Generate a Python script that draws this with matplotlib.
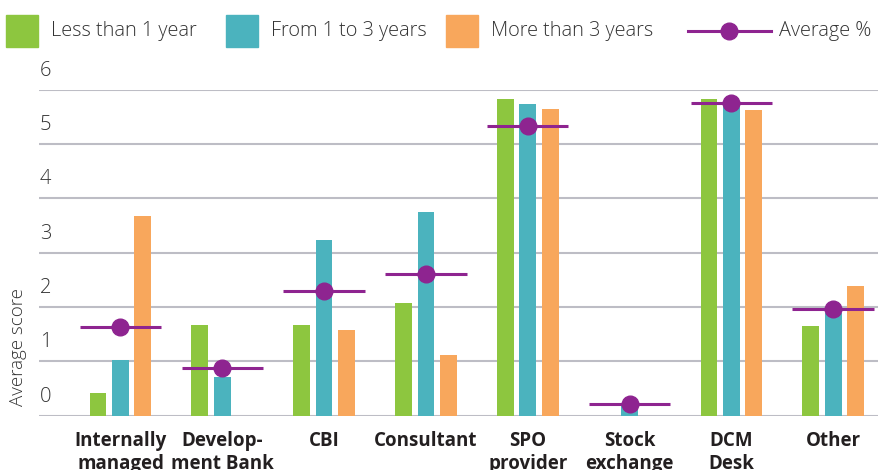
import numpy as np
import matplotlib.pyplot as plt
from matplotlib.patches import Rectangle
from matplotlib.lines import Line2D

categories = ["Internally\nmanaged", "Develop-\nment Bank", "CBI", "Consultant",
              "SPO\nprovider", "Stock\nexchange", "DCM\nDesk", "Other"]
less_1 = [0.42, 1.67, 1.67, 2.07, 5.83, 0.0, 5.83, 1.65]
from_1_3 = [1.03, 0.71, 3.24, 3.75, 5.74, 0.21, 5.75, 1.89]
more_3 = [3.67, 0.0, 1.58, 1.12, 5.65, 0.0, 5.63, 2.39]
average = [1.64, 0.87, 2.30, 2.60, 5.33, 0.21, 5.75, 1.97]
series_names = ["Less than 1 year", "From 1 to 3 years", "More than 3 years"]
yticks = [0, 1, 2, 3, 4, 5, 6]

green, teal, orange, purple = "#8DC63F", "#4BB3BE", "#F8A75C", "#8E2490"
grid_c = "#BDBDC5"
txt_c = "#231F20"
label_c = "#333333"
plt.rcParams["font.family"] = ["Open Sans", "DejaVu Sans"]

W, H = 879, 470
fig = plt.figure(figsize=(W / 100, H / 100), dpi=100)
ax = fig.add_axes([39 / W, (H - 415.7) / H, 1 - 39 / W, (415.7 - 89.7) / H])

x = np.arange(len(categories))
bw, step = 0.165, 0.22
for off, vals, c in zip([-step, 0, step], [less_1, from_1_3, more_3], [green, teal, orange]):
    ax.bar(x + off, vals, width=bw, color=c, zorder=2)

for xi, a in zip(x, average):
    ax.plot([xi - 0.4, xi + 0.4], [a, a], color=purple, lw=2.2, zorder=3, solid_capstyle="butt")
ax.plot(x, average, "o", color=purple, ms=12, zorder=4)

ax.set_xlim(-0.8, 7.45)
ax.set_ylim(0, 6)
for v in yticks:
    ax.axhline(v, color=grid_c, lw=1.5, zorder=1)
    ax.annotate(str(v), (0, v), xycoords=("axes fraction", "data"), xytext=(0.5, 6.5),
                textcoords="offset points", ha="left", va="bottom", fontsize=14.5,
                color=label_c, fontweight="light")
ax.set_yticks([])
ax.set_xticks(x)
ax.set_xticklabels(categories, fontsize=13.5, fontweight="bold", color=txt_c, linespacing=1.2)
ax.tick_params(axis="x", length=0, pad=11)
for s in ax.spines.values():
    s.set_visible(False)

fig.text(18 / W, 1 - 347 / H, "Average score", rotation=90, ha="center", va="center",
         fontsize=13.5, color=label_c, fontweight="light")

# legend
ly = 1 - 31 / H
for x0, c, name, tx in zip([6, 226, 446], [green, teal, orange], series_names, [51, 271, 491]):
    fig.add_artist(Rectangle((x0 / W, ly - 16 / H), 32 / W, 32 / H, color=c,
                             transform=fig.transFigure))
    fig.text(tx / W, ly, name, ha="left", va="center", fontsize=14.3, color=label_c,
             fontweight="light")
fig.add_artist(Line2D([688 / W, 771 / W], [ly, ly], color=purple, lw=2.2,
                      transform=fig.transFigure))
fig.add_artist(Line2D([729 / W], [ly], marker="o", ms=12, color=purple,
                      transform=fig.transFigure))
fig.text(779 / W, ly, "Average %", ha="left", va="center", fontsize=14.3, color=label_c,
         fontweight="light")

fig.savefig("out.png", dpi=100)
